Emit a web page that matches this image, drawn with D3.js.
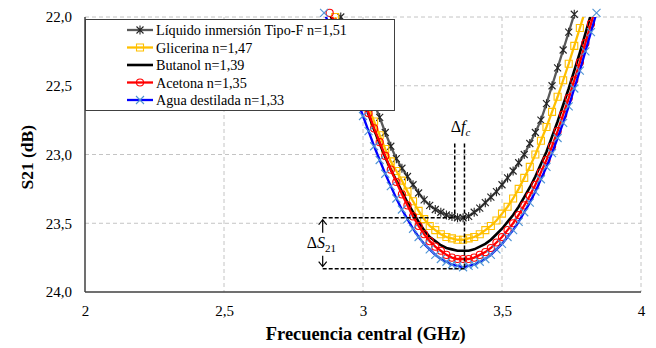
<!DOCTYPE html>
<html>
<head>
<meta charset="utf-8">
<script src="https://cdn.jsdelivr.net/npm/d3@7"></script>
<style>
body { margin: 0; background: #fff; }
text { font-family: "Liberation Serif", "Times New Roman", serif; fill: #000; }
</style>
</head>
<body>
<script>
// frecuencias comunes (GHz)
var freq = [2.86, 2.88, 2.90, 2.92, 2.94, 2.96, 2.98, 3.00, 3.02, 3.04,
            3.06, 3.08, 3.10, 3.12, 3.14, 3.16, 3.18, 3.20, 3.22, 3.24,
            3.26, 3.28, 3.30, 3.32, 3.34, 3.36, 3.38, 3.40, 3.42, 3.44,
            3.46, 3.48, 3.50, 3.52, 3.54, 3.56, 3.58, 3.60, 3.62, 3.64,
            3.66, 3.68, 3.70, 3.72, 3.74, 3.76, 3.78, 3.80, 3.82, 3.84];

var s21TipoF = [null, null, null, 22.00, 22.10, 22.21, 22.31, 22.42, 22.52, 22.63,
                22.73, 22.84, 22.94, 23.03, 23.10, 23.16, 23.22, 23.28, 23.33, 23.37,
                23.40, 23.42, 23.44, 23.45, 23.46, 23.46, 23.45, 23.42, 23.39, 23.35,
                23.31, 23.27, 23.22, 23.17, 23.12, 23.06, 23.00, 22.92, 22.84, 22.75,
                22.63, 22.50, 22.37, 22.24, 22.11, 21.98, null, null, null, null];

var s21Glicerina = [null, null, 22.00, 22.11, 22.22, 22.33, 22.44, 22.55, 22.66, 22.76,
                    22.86, 22.96, 23.05, 23.12, 23.19, 23.27, 23.34, 23.41, 23.47, 23.52,
                    23.55, 23.58, 23.60, 23.61, 23.62, 23.62, 23.61, 23.60, 23.58, 23.55,
                    23.52, 23.48, 23.43, 23.38, 23.32, 23.25, 23.17, 23.09, 23.00, 22.90,
                    22.80, 22.69, 22.58, 22.46, 22.34, 22.21, 22.08, 21.95, null, null];

var s21Butanol = [null, 21.98, 22.06, 22.17, 22.28, 22.39, 22.50, 22.61, 22.71, 22.82,
                  22.92, 23.02, 23.11, 23.19, 23.27, 23.35, 23.42, 23.49, 23.55, 23.60,
                  23.63, 23.66, 23.68, 23.69, 23.70, 23.70, 23.70, 23.69, 23.67, 23.65,
                  23.62, 23.58, 23.54, 23.49, 23.44, 23.38, 23.31, 23.24, 23.16, 23.07,
                  22.98, 22.87, 22.76, 22.64, 22.52, 22.39, 22.26, 22.12, 21.98, null];

var s21Acetona = [null, 21.97, 22.04, 22.15, 22.26, 22.37, 22.48, 22.59, 22.70, 22.81,
                  22.91, 23.01, 23.11, 23.20, 23.29, 23.37, 23.45, 23.52, 23.58, 23.63,
                  23.67, 23.70, 23.73, 23.75, 23.76, 23.76, 23.76, 23.75, 23.73, 23.71,
                  23.68, 23.64, 23.60, 23.55, 23.50, 23.44, 23.37, 23.30, 23.22, 23.13,
                  23.04, 22.94, 22.83, 22.71, 22.59, 22.46, 22.33, 22.19, 22.05, 21.91];

var s21Agua = [21.97, 22.06, 22.17, 22.28, 22.39, 22.50, 22.61, 22.72, 22.83, 22.94,
               23.04, 23.14, 23.23, 23.32, 23.40, 23.47, 23.54, 23.60, 23.65, 23.69,
               23.73, 23.76, 23.78, 23.80, 23.81, 23.82, 23.81, 23.80, 23.78, 23.76,
               23.73, 23.69, 23.65, 23.60, 23.55, 23.49, 23.42, 23.35, 23.27, 23.18,
               23.09, 22.99, 22.88, 22.77, 22.65, 22.52, 22.39, 22.25, 22.11, 21.97];

var seriesNames = ['Líquido inmersión Tipo-F n=1,51', 'Glicerina n=1,47', 'Butanol n=1,39',
                   'Acetona n=1,35', 'Agua destilada n=1,33'];
var seriesValues = [s21TipoF, s21Glicerina, s21Butanol, s21Acetona, s21Agua];

var xTicks = [2, 2.5, 3, 3.5, 4];
var xTickLabels = ['2', '2,5', '3', '3,5', '4'];
var yTicks = [22, 22.5, 23, 23.5, 24];
var yTickLabels = ['22,0', '22,5', '23,0', '23,5', '24,0'];

// anotaciones (GHz / dB)
var fcTipoF = 3.33, fcAgua = 3.365;
var minTipoF = 23.46, minAgua = 23.83;
var annotTop = 22.92, annotLeft = 2.855;

// estilos por serie
var lineColors = ['#595959', '#ffc000', '#000000', '#ff0000', '#0000ff'];
var markerColors = ['#262626', '#ffc000', null, '#ff0000', '#4f94d4'];
var markerTypes = ['star', 'square', 'none', 'circle', 'x'];

var width = 656, height = 348;
var x = d3.scaleLinear().domain([2, 4]).range([85, 641]);
var y = d3.scaleLinear().domain([22, 24]).range([17, 292]);

var svg = d3.select('body').append('svg').attr('width', width).attr('height', height);

svg.append('defs').append('clipPath').attr('id', 'plot')
  .append('rect').attr('x', x(2)).attr('y', y(22)).attr('width', x(4) - x(2)).attr('height', y(24) - y(22));

// rejilla
var grid = svg.append('g').attr('stroke', '#c4c4c4').attr('stroke-width', 1).attr('stroke-dasharray', '4,3');
grid.selectAll('.gy').data(yTicks.slice(0, 4)).enter().append('line')
  .attr('x1', x(2)).attr('x2', x(4)).attr('y1', function(d) { return y(d); }).attr('y2', function(d) { return y(d); });
grid.selectAll('.gx').data(xTicks.slice(1)).enter().append('line')
  .attr('y1', y(22)).attr('y2', y(24)).attr('x1', function(d) { return x(d); }).attr('x2', function(d) { return x(d); });

var markerPath = function(type) {
  if (type === 'star') return 'M-3.5,-3.5L3.5,3.5M-3.5,3.5L3.5,-3.5M0,-4.5L0,4.5';
  if (type === 'x') return 'M-4,-4L4,4M-4,4L4,-4';
  if (type === 'square') return 'M-3.5,-3.5H3.5V3.5H-3.5Z';
  if (type === 'circle') return d3.symbol(d3.symbolCircle, 40)();
  return '';
};

var line = d3.line()
  .defined(function(d) { return d[1] !== null; })
  .x(function(d) { return x(d[0]); })
  .y(function(d) { return y(d[1]); });

seriesValues.forEach(function(vals, k) {
  var pts = freq.map(function(f, i) { return [f, vals[i]]; });
  var g = svg.append('g');
  g.append('path').datum(pts).attr('clip-path', 'url(#plot)')
    .attr('d', line).attr('fill', 'none')
    .attr('stroke', lineColors[k]).attr('stroke-width', k === 2 ? 2.6 : 2.3);
  if (markerTypes[k] === 'none') return;
  g.selectAll('.m').data(pts.filter(function(d) { return d[1] !== null && d[1] >= 21.96; }))
    .enter().append('path')
    .attr('transform', function(d) { return 'translate(' + x(d[0]) + ',' + y(d[1]) + ')'; })
    .attr('d', markerPath(markerTypes[k]))
    .attr('fill', 'none').attr('stroke', markerColors[k]).attr('stroke-width', 1.1);
});

// leyenda
var legend = svg.append('g');
legend.append('rect').attr('x', 85.5).attr('y', 19.5).attr('width', 309).attr('height', 91)
  .attr('fill', '#fff').attr('stroke', '#404040').attr('stroke-width', 1);
seriesNames.forEach(function(name, k) {
  var ly = 30 + k * 17.5;
  legend.append('line').attr('x1', 127).attr('x2', 153).attr('y1', ly).attr('y2', ly)
    .attr('stroke', lineColors[k]).attr('stroke-width', k === 2 ? 2.6 : 2.3);
  if (markerTypes[k] !== 'none') {
    legend.append('path').attr('transform', 'translate(140,' + ly + ')')
      .attr('d', markerPath(markerTypes[k])).attr('fill', 'none')
      .attr('stroke', markerColors[k]).attr('stroke-width', 1.1);
  }
  legend.append('text').attr('x', 156).attr('y', ly + 5).attr('font-size', 14.2).text(name);
});

// ejes
var yAxis = svg.append('g').attr('transform', 'translate(' + x(2) + ',0)')
  .call(d3.axisLeft(y).tickValues(yTicks).tickSize(0).tickPadding(13)
    .tickFormat(function(d, i) { return yTickLabels[i]; }));
yAxis.select('.domain').remove();
yAxis.selectAll('text').attr('font-size', 15).attr('font-family', '"Liberation Serif", serif').attr('fill', '#000');

var xAxis = svg.append('g').attr('transform', 'translate(0,' + y(24) + ')')
  .call(d3.axisBottom(x).tickValues(xTicks).tickSize(0).tickPadding(13)
    .tickFormat(function(d, i) { return xTickLabels[i]; }));
xAxis.select('.domain').remove();
xAxis.selectAll('text').attr('font-size', 15).attr('font-family', '"Liberation Serif", serif').attr('fill', '#000');

svg.append('line').attr('x1', x(2)).attr('x2', x(2)).attr('y1', y(22)).attr('y2', y(24))
  .attr('stroke', '#404040').attr('stroke-width', 1.5);
svg.append('line').attr('x1', x(2)).attr('x2', x(4)).attr('y1', y(24)).attr('y2', y(24))
  .attr('stroke', '#404040').attr('stroke-width', 1.5);

svg.append('text').attr('transform', 'translate(33,' + y(23.02) + ') rotate(-90)')
  .attr('text-anchor', 'middle').attr('font-size', 17.5).attr('font-weight', 'bold').text('S21 (dB)');
svg.append('text').attr('x', x(3.01)).attr('y', 340)
  .attr('text-anchor', 'middle').attr('font-size', 18.4).attr('font-weight', 'bold').text('Frecuencia central (GHz)');

// anotaciones
var ann = svg.append('g').attr('stroke', '#000').attr('stroke-width', 1.5).attr('fill', 'none');
ann.append('line').attr('x1', x(annotLeft)).attr('x2', x(fcTipoF)).attr('y1', y(minTipoF)).attr('y2', y(minTipoF))
  .attr('stroke-dasharray', '4,2');
ann.append('line').attr('x1', x(annotLeft)).attr('x2', x(fcAgua)).attr('y1', y(minAgua)).attr('y2', y(minAgua))
  .attr('stroke-dasharray', '4,2');
ann.append('line').attr('x1', x(fcTipoF)).attr('x2', x(fcTipoF)).attr('y1', y(annotTop)).attr('y2', y(minTipoF))
  .attr('stroke-dasharray', '4,2');
ann.append('line').attr('x1', x(fcAgua)).attr('x2', x(fcAgua)).attr('y1', y(annotTop)).attr('y2', y(minAgua))
  .attr('stroke-dasharray', '4,2');

var ax = x(annotLeft), ay1 = y(minTipoF) + 2, ay2 = y(minAgua) - 2;
ann.append('path').attr('stroke-width', 1.2)
  .attr('d', 'M' + ax + ',' + (ay1 + 13) + 'V' + ay1 + 'M' + (ax - 4) + ',' + (ay1 + 5) + 'L' + ax + ',' + ay1 + 'L' + (ax + 4) + ',' + (ay1 + 5));
ann.append('path').attr('stroke-width', 1.2)
  .attr('d', 'M' + ax + ',' + (ay2 - 11) + 'V' + ay2 + 'M' + (ax - 4) + ',' + (ay2 - 5) + 'L' + ax + ',' + ay2 + 'L' + (ax + 4) + ',' + (ay2 - 5));

var ds = svg.append('text').attr('x', ax - 16).attr('y', (y(minTipoF) + y(minAgua)) / 2 + 5).attr('font-size', 16)
  .attr('font-family', '"DejaVu Serif", serif');
ds.append('tspan').text('Δ');
ds.append('tspan').attr('font-style', 'italic').text('S');
ds.append('tspan').attr('font-size', 11).attr('dy', 4).text('21');

var df = svg.append('text').attr('x', x(fcTipoF) - 4).attr('y', y(annotTop) - 12).attr('font-size', 16)
  .attr('font-family', '"DejaVu Serif", serif');
df.append('tspan').text('Δ');
df.append('tspan').attr('font-style', 'italic').text('f');
df.append('tspan').attr('font-size', 11).attr('font-style', 'italic').attr('dy', 4).text('c');
</script>
</body>
</html>
